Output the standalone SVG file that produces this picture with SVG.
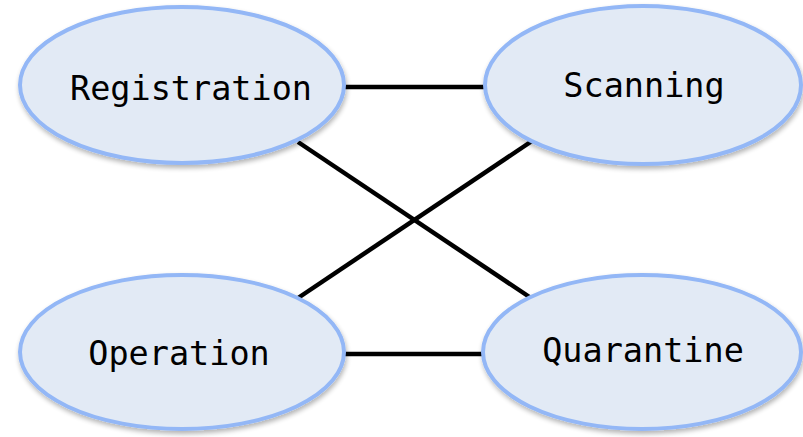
<svg xmlns="http://www.w3.org/2000/svg" width="803" height="437" viewBox="0 0 803 437">
  <defs>
    <filter id="shadow" x="-10%" y="-10%" width="125%" height="130%">
      <feGaussianBlur in="SourceAlpha" stdDeviation="2.5"/>
      <feOffset dx="1" dy="3" result="blur"/>
      <feComponentTransfer><feFuncA type="linear" slope="0.3"/></feComponentTransfer>
      <feMerge><feMergeNode/><feMergeNode in="SourceGraphic"/></feMerge>
    </filter>
  </defs>
  <style>
    .node ellipse { fill: #e2eaf5; stroke: #93b7f6; stroke-width: 4; filter: url(#shadow); }
    .node text { font-family: "DejaVu Sans Mono", "Liberation Mono", monospace; font-size: 33.5px; fill: #000; text-anchor: middle; }
    .edge { stroke: #000; stroke-width: 4.5; fill: none; }
  </style>
  <rect width="803" height="437" fill="#ffffff"/>

  <g id="connectors">
    <line class="edge" x1="345" y1="87" x2="486" y2="87"/>
    <line class="edge" x1="345" y1="354" x2="486" y2="354"/>
    <line class="edge" x1="298" y1="142" x2="531" y2="298"/>
    <line class="edge" x1="532" y1="141" x2="298" y2="298"/>
  </g>

  <g id="registration" class="node">
    <ellipse cx="182" cy="85" rx="162" ry="78"/>
    <text x="191" y="100">Registration</text>
  </g>
  <g id="scanning" class="node">
    <ellipse cx="643" cy="85" rx="158" ry="79"/>
    <text x="644" y="97">Scanning</text>
  </g>
  <g id="operation" class="node">
    <ellipse cx="182" cy="352" rx="162" ry="77"/>
    <text x="179" y="365">Operation</text>
  </g>
  <g id="quarantine" class="node">
    <ellipse cx="642" cy="352" rx="159" ry="77"/>
    <text x="643" y="362">Quarantine</text>
  </g>
</svg>
